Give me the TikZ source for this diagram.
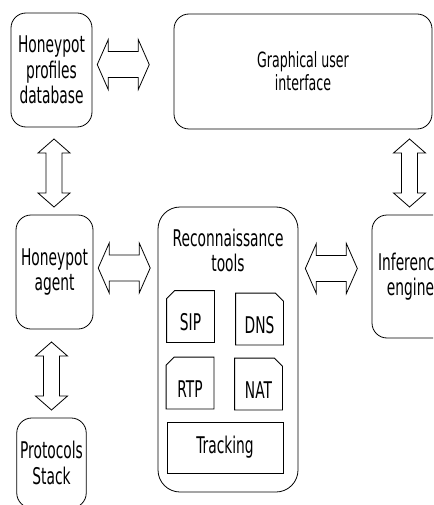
\documentclass[tikz,border=0pt]{standalone}
\usepackage{fontspec}
\setmainfont[FakeStretch=0.6]{DejaVu Sans}
\usetikzlibrary{calc}
\tikzset{
  blk/.style={draw, rounded corners=15pt, align=center, font=\fontsize{23}{25.5}\selectfont},
  tool/.style={minimum width=47pt, minimum height=51pt, text height=28pt, text depth=0pt, font=\fontsize{23}{25.5}\selectfont},
  harrow/.pic={\draw (-26,0) -- (-15,-25) -- (-15,-13) -- (15,-13) -- (15,-25) -- (26,0) -- (15,25) -- (15,13) -- (-15,13) -- (-15,25) -- cycle;},
  varrow/.pic={\draw (0,-34) -- (16,-20) -- (8,-20) -- (8,20) -- (16,20) -- (0,34) -- (-16,20) -- (-8,20) -- (-8,-20) -- (-16,-20) -- cycle;}
}
\begin{document}
\begin{tikzpicture}[x=1pt, y=-1pt, line width=0.8pt]
  \clip (0,0) rectangle (433,505);

  % Main blocks
  \node[blk, minimum width=81pt, minimum height=114pt] (db) at (51.5,70) {Honeypot\\profiles\\database};
  \node[blk, minimum width=258pt, minimum height=115pt, font=\fontsize{21}{23}\selectfont] (gui) at (303,71.5) {Graphical user\\interface};
  \node[blk, minimum width=77pt, minimum height=114pt] (agent) at (54.5,272) {Honeypot\\agent};
  \node[blk, minimum width=77pt, minimum height=123pt] (infer) at (410.5,276.5) {Inference\\engine};
  \node[blk, minimum width=69pt, minimum height=90pt] (stack) at (51.5,463) {Protocols\\Stack};
  \node[blk, rounded corners=22pt, minimum width=140pt, minimum height=285pt] (recon) at (228,349.5) {};
  \node[align=center, font=\fontsize{23}{25.5}\selectfont] (recontitle) at (228,250.5) {Reconnaissance\\tools};

  % Tools
  \node[tool] (sip) at (190.5,316.5) {SIP};
  \node[tool] (dns) at (259.5,319) {DNS};
  \node[tool] (rtp) at (190,383) {RTP};
  \node[tool] (nat) at (258.5,384) {NAT};
  \node[draw, minimum width=116pt, minimum height=51pt, font=\fontsize{23}{25.5}\selectfont] (track) at (225,447.5) {Tracking};
  \foreach \n in {sip,rtp}
    \draw ([yshift=-8pt]\n.north west) -- ([xshift=8pt]\n.north west) -- (\n.north east) -- (\n.south east) -- (\n.south west) -- cycle;
  \foreach \n in {dns,nat}
    \draw (\n.north west) -- ([xshift=-8pt]\n.north east) -- ([yshift=-8pt]\n.north east) -- (\n.south east) -- (\n.south west) -- cycle;

  % Double arrows
  \pic at ($(db.east)!0.38!(gui.west)+(0,-6)$) {harrow};
  \pic at ($(agent.east)!0.48!(agent.east -| recon.west)+(0,-4)$) {harrow};
  \pic at ($(infer.west -| recon.east)!0.45!(infer.west)+(0,-8)$) {harrow};
  \pic at ($(db.south)!0.5!(agent.north)+(1,2)$) {varrow};
  \pic at ($(gui.south -| infer.north)!0.5!(infer.north)+(-1,1)$) {varrow};
  \pic at ($(agent.south)!0.5!(stack.north)+(-1.5,2.5)$) {varrow};
\end{tikzpicture}
\end{document}
